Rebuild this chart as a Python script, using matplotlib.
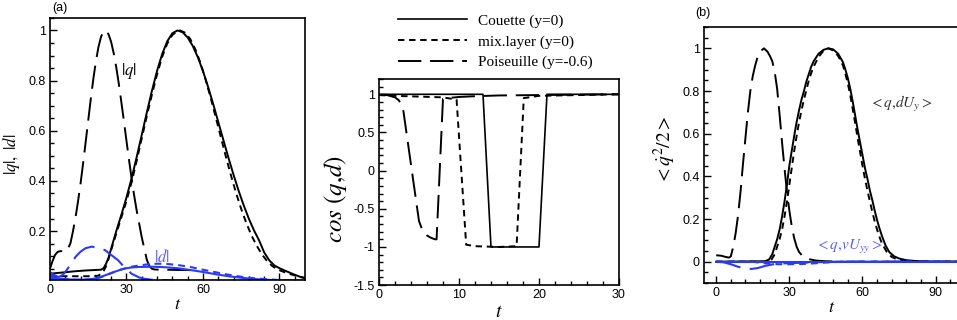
import numpy as np
import matplotlib
matplotlib.use("Agg")
import matplotlib.pyplot as plt
from matplotlib.ticker import MultipleLocator, FuncFormatter

plt.rcParams['font.family'] = ['Liberation Sans', 'DejaVu Sans']
plt.rcParams['mathtext.fontset'] = 'stix'

BLUE = '#2b3bf5'
LBLUE = '#5a5cff'

# ---- panel (a): |q| and |d| (normalised) ----
ta_cq = [0, 3, 6, 10, 14, 18, 20, 21, 22, 23, 24, 26, 28, 30, 32, 34, 36, 38, 40, 42, 44, 46, 48, 50,
         52, 54, 56, 58, 60, 62, 64, 66, 68, 70, 72, 74, 76, 78, 80, 82, 84, 86, 88, 90, 92, 95, 98, 100]
qa_cq = [0.03, 0.033, 0.036, 0.04, 0.043, 0.045, 0.046, 0.052, 0.07, 0.095, 0.13, 0.2, 0.265, 0.334, 0.41,
         0.495, 0.584, 0.674, 0.76, 0.839, 0.906, 0.957, 0.989, 1.0, 0.993, 0.972, 0.938, 0.893, 0.838,
         0.775, 0.707, 0.635, 0.563, 0.492, 0.424, 0.36, 0.302, 0.249, 0.203, 0.163, 0.115, 0.083, 0.063,
         0.052, 0.043, 0.03, 0.018, 0.013]

ta_mq = [0, 5, 10, 15, 19, 21, 22, 23, 24, 26, 28, 30, 32, 34, 36, 38, 40, 42, 44, 46, 48, 50, 51,
         53, 55, 57, 59, 61, 63, 65, 67, 69, 71, 73, 75, 77, 79, 81, 83, 85, 87, 89, 92, 95, 98, 100]
qa_mq = [0.02, 0.02, 0.02, 0.02, 0.022, 0.04, 0.06, 0.09, 0.125, 0.19, 0.255, 0.32, 0.395, 0.48, 0.57,
         0.66, 0.745, 0.825, 0.895, 0.948, 0.982, 0.998, 1.0, 0.991, 0.966, 0.925, 0.871, 0.805, 0.732,
         0.654, 0.575, 0.496, 0.421, 0.351, 0.288, 0.232, 0.183, 0.143, 0.109, 0.082, 0.062, 0.048,
         0.036, 0.026, 0.017, 0.013]

ta_pq = [0, 1, 2, 3, 4, 5, 6, 7, 8, 9, 10, 11, 12, 13, 14, 15, 16, 17, 18, 19, 20, 21, 21.6, 22, 23,
         24, 25, 26, 27, 28, 29, 30, 31, 32, 33, 34, 35, 36, 37, 38, 39, 40, 41, 43, 46, 50, 53, 57]
qa_pq = [0.05, 0.08, 0.105, 0.117, 0.12, 0.12, 0.118, 0.13, 0.15, 0.198, 0.253, 0.318, 0.39, 0.47,
         0.555, 0.641, 0.726, 0.806, 0.876, 0.933, 0.974, 0.996, 1.0, 0.999, 0.984, 0.954, 0.909, 0.853,
         0.787, 0.714, 0.638, 0.56, 0.484, 0.411, 0.343, 0.282, 0.229, 0.175, 0.13, 0.085, 0.06, 0.05,
         0.047, 0.046, 0.046, 0.045, 0.045, 0.044]

ta_cd = [0, 2, 4, 8, 12, 16, 18, 20, 22, 24, 26, 28, 30, 32, 35, 40, 45, 50, 55, 60, 65, 70, 75, 80,
         85, 90, 100]
da_cd = [0.02, 0.015, 0.01, 0.007, 0.006, 0.008, 0.012, 0.018, 0.025, 0.033, 0.04, 0.047, 0.052, 0.055,
         0.057, 0.058, 0.056, 0.052, 0.045, 0.037, 0.028, 0.02, 0.014, 0.009, 0.006, 0.004, 0.002]

ta_md = [0, 5, 10, 15, 18, 20, 22, 24, 26, 28, 30, 32, 35, 38, 42, 46, 50, 55, 60, 65, 70, 75, 80, 85,
         90, 100]
da_md = [0.012, 0.008, 0.006, 0.007, 0.01, 0.016, 0.024, 0.032, 0.04, 0.047, 0.053, 0.058, 0.063, 0.067,
         0.07, 0.069, 0.065, 0.057, 0.046, 0.036, 0.026, 0.018, 0.012, 0.008, 0.005, 0.002]

ta_pd = [0, 1.5, 3.4, 5, 6, 8, 10, 12, 14, 16.4, 19, 21.6, 24, 26.7, 29, 32, 35, 37, 40, 50, 60, 80, 100]
da_pd = [0.037, 0.025, 0.017, 0.025, 0.037, 0.065, 0.097, 0.118, 0.132, 0.138, 0.133, 0.124, 0.105,
         0.084, 0.058, 0.03, 0.015, 0.01, 0.006, 0.003, 0.002, 0.001, 0.0]

# ---- middle panel: cos(q,d) ----
tc_c = [0, 13, 14, 20, 21, 30]
cos_c = [1, 1, -1, -1, 1, 1]
tc_m = [0, 2, 5, 8, 9.7, 10.9, 12, 15, 17.2, 18.1, 20, 25, 30]
cos_m = [0.99, 0.98, 0.97, 0.96, 0.93, -0.97, -0.99, -1, -0.99, 0.95, 0.98, 0.99, 1.0]
tc_p = [0, 1, 2, 2.5, 3, 4, 5, 5.5, 6, 6.5, 7, 7.2, 8, 9, 10, 12, 15, 20, 30]
cos_p = [0.99, 0.99, 0.96, 0.92, 0.82, 0.08, -0.66, -0.8, -0.85, -0.88, -0.9, -0.9, 0.94, 0.955,
         0.965, 0.975, 0.985, 0.99, 1.0]

# ---- panel (b): energy budget terms ----
tb_p = [0, 2, 4, 5.3, 6, 7, 8, 9, 10, 11, 12, 13, 14, 15, 16, 17, 18, 19.6, 21, 22, 23, 24, 25, 26,
        27, 28, 29, 30, 31, 32, 33, 34, 35.5, 38, 41, 45, 50, 100]
eb_p = [0.03, 0.028, 0.022, 0.019, 0.025, 0.07, 0.135, 0.22, 0.33, 0.46, 0.58, 0.7, 0.8, 0.87, 0.92,
        0.96, 0.985, 1.0, 0.985, 0.965, 0.94, 0.89, 0.81, 0.69, 0.56, 0.44, 0.33, 0.24, 0.165, 0.11,
        0.07, 0.045, 0.026, 0.012, 0.005, 0.002, 0.0, 0.0]

tb_c = [0, 20, 21.7, 23, 24, 25, 26, 27, 28, 29, 30, 31, 32, 33, 34, 35, 36, 37, 38, 39, 40, 42, 44, 46,
        48, 50, 52, 53, 54, 55, 56, 57, 58, 59, 60, 61, 62, 63, 64, 65, 66, 67, 68, 69.5, 71, 73, 75,
        78, 82, 86, 90, 100]
eb_c = [0.0, 0.002, 0.01, 0.035, 0.07, 0.105, 0.15, 0.21, 0.28, 0.36, 0.45, 0.52, 0.59, 0.655, 0.71,
        0.76, 0.8, 0.845, 0.88, 0.915, 0.94, 0.975, 0.993, 1.0, 0.995, 0.975, 0.935, 0.9, 0.86, 0.81,
        0.75, 0.685, 0.62, 0.56, 0.5, 0.44, 0.39, 0.335, 0.29, 0.24, 0.195, 0.155, 0.12, 0.075, 0.045,
        0.025, 0.015, 0.007, 0.003, 0.001, 0.0, 0.0]

tb_m = [0, 21, 22.7, 24, 25, 26, 27, 28, 29, 30, 31, 32, 33, 34, 35, 36, 37, 38, 39, 40, 42, 44, 46,
        48, 50, 52, 53, 54, 55, 56, 57, 58, 59, 60, 61, 62, 63, 64, 65, 66, 67, 68, 70, 72, 74, 78, 85, 100]
eb_m = [0.0, 0.0, 0.01, 0.035, 0.07, 0.105, 0.15, 0.21, 0.28, 0.36, 0.44, 0.52, 0.59, 0.655, 0.71,
        0.76, 0.805, 0.85, 0.885, 0.915, 0.96, 0.988, 1.0, 0.99, 0.965, 0.92, 0.88, 0.835, 0.78, 0.715,
        0.65, 0.58, 0.515, 0.45, 0.39, 0.335, 0.285, 0.235, 0.19, 0.15, 0.115, 0.085, 0.045, 0.022,
        0.012, 0.004, 0.001, 0.0]

tb_cv = [0, 100]
eb_cv = [0.0, 0.0]
tb_pv = [0, 3, 6, 9, 12, 14.5, 17, 20, 23, 26, 30, 35, 40, 45, 50, 100]
eb_pv = [0.0, -0.003, -0.012, -0.024, -0.032, -0.034, -0.03, -0.02, -0.013, -0.009, -0.007, -0.005,
         -0.003, -0.001, 0.0, 0.0]
tb_mv = [0, 15, 18, 22, 26, 30, 35, 40, 45, 50, 55, 100]
eb_mv = [0.0, 0.0, -0.005, -0.01, -0.012, -0.012, -0.011, -0.008, -0.004, -0.001, 0.0, 0.0]

SOLID = '-'
SHORT = (0, (3.3, 2.4))
LONG = (0, (12, 4.5))

fmt = FuncFormatter(lambda v, _: '%g' % v)


def style(ax, xmaj, xmin, ymaj, ymin):
    ax.xaxis.set_major_locator(MultipleLocator(xmaj))
    ax.xaxis.set_minor_locator(MultipleLocator(xmin))
    ax.yaxis.set_major_locator(MultipleLocator(ymaj))
    ax.yaxis.set_minor_locator(MultipleLocator(ymin))
    ax.xaxis.set_major_formatter(fmt)
    ax.yaxis.set_major_formatter(fmt)
    ax.tick_params(which='both', direction='in', top=False, right=False, labelsize=9, width=1)
    ax.tick_params(which='major', length=5, pad=3)
    ax.tick_params(which='minor', length=3)
    for s in ax.spines.values():
        s.set_linewidth(1.2)


fig = plt.figure(figsize=(9.57, 3.2), dpi=100)

# (a)
ax1 = fig.add_axes([0.0522, 0.125, 0.2665, 0.819])
ax1.plot(ta_cq, qa_cq, color='k', lw=1.4, ls=SOLID)
ax1.plot(ta_mq, qa_mq, color='k', lw=1.4, ls=SHORT)
ax1.plot(ta_pq, qa_pq, color='k', lw=1.4, ls=LONG)
ax1.plot(ta_cd, da_cd, color=BLUE, lw=1.5, ls=SOLID)
ax1.plot(ta_md, da_md, color=BLUE, lw=1.5, ls=SHORT)
ax1.plot(ta_pd, da_pd, color=BLUE, lw=1.5, ls=LONG)
ax1.set_xlim(0, 100)
ax1.set_ylim(0.005, 1.05)
style(ax1, 30, 6, 0.2, 0.05)
ax1.text(31, 0.84, r'$|q|$', fontsize=12, color='k', ha='center', va='center')
ax1.text(44, 0.1, r'$|d|$', fontsize=12, color=LBLUE, ha='center', va='center')
ax1.set_xlabel(r'$t$', fontsize=13, labelpad=0)
ax1.set_ylabel(r'$|q|,\ |d|$', fontsize=12)
ax1.yaxis.set_label_coords(-0.11, 0.48)
fig.text(52 / 957, 1 - 8 / 320, '(a)', fontsize=9, ha='left', va='center')

# middle
ax2 = fig.add_axes([0.396, 0.109, 0.2508, 0.644])
l1, = ax2.plot(tc_c, cos_c, color='k', lw=1.2, ls=SOLID, label='Couette (y=0)')
l2, = ax2.plot(tc_m, cos_m, color='k', lw=1.4, ls=SHORT, label='mix.layer (y=0)')
l3, = ax2.plot(tc_p, cos_p, color='k', lw=1.4, ls=LONG, label='Poiseuille (y=-0.6)')
ax2.set_xlim(0, 30)
ax2.set_ylim(-1.5, 1.2)
style(ax2, 10, 2, 0.5, 0.1)
ax2.set_xlabel(r'$t$', fontsize=14, labelpad=2)
ax2.set_ylabel(r'$cos\ (q{,}d)$', fontsize=18)
ax2.yaxis.set_label_coords(-0.125, 0.42)
fig.legend(handles=[l1, l2, l3], loc='upper left', bbox_to_anchor=(398 / 957, 1 - 14 / 320),
           frameon=False, prop={'family': 'Liberation Serif', 'size': 11}, handlelength=4.5,
           handletextpad=0.75, labelspacing=0.45, borderpad=0, borderaxespad=0)

# (b)
ax3 = fig.add_axes([704 / 957, 0.1156, 256 / 957, 0.8])
ax3.plot(tb_c, eb_c, color='k', lw=1.4, ls=SOLID)
ax3.plot(tb_m, eb_m, color='k', lw=1.4, ls=SHORT)
ax3.plot(tb_p, eb_p, color='k', lw=1.4, ls=LONG)
ax3.plot(tb_cv, eb_cv, color=BLUE, lw=1.5, ls=SOLID)
ax3.plot(tb_mv, eb_mv, color=BLUE, lw=1.5, ls=SHORT)
ax3.plot(tb_pv, eb_pv, color=BLUE, lw=1.5, ls=LONG)
ax3.set_xlim(-5, 100)
ax3.set_ylim(-0.1, 1.1)
style(ax3, 30, 6, 0.2, 0.05)
ax3.text(76, 0.74, r'$<q{,}dU_y>$', fontsize=11, color='#333333', ha='center', va='center')
ax3.text(54.5, 0.07, r'$<q{,}vU_{yy}>$', fontsize=11, color=LBLUE, ha='center', va='center')
ax3.set_xlabel(r'$t$', fontsize=13, labelpad=0)
ax3.set_ylabel(r'$<\dot{q}^2/2>$', fontsize=14)
ax3.yaxis.set_label_coords(-0.10, 0.52)
fig.text(703 / 957, 1 - 13 / 320, '(b)', fontsize=9, ha='center', va='center')

fig.savefig('out.png', dpi=100)
